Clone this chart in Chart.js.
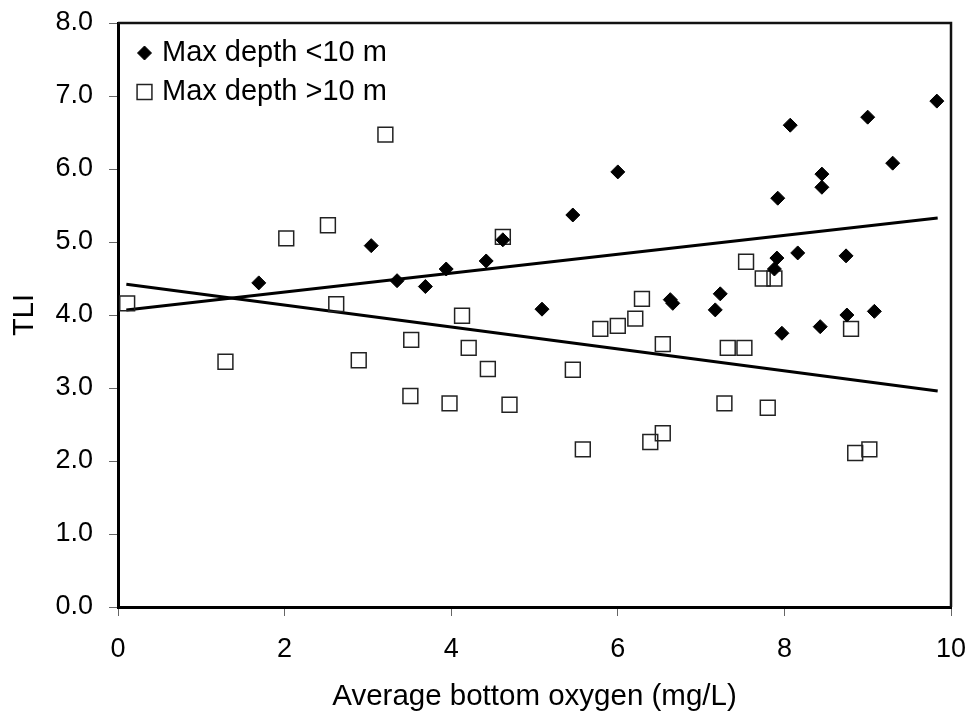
<!DOCTYPE html>
<html>
<head>
<meta charset="utf-8">
<script src="https://cdn.jsdelivr.net/npm/chart.js@4.4.1/dist/chart.umd.min.js"></script>
<style>
    html, body { margin: 0; padding: 0; background: #fff; }
    #wrap { width: 975px; height: 716px; }
</style>
</head>
<body>
<div id="wrap"><canvas id="chart" width="975" height="716"></canvas></div>
<script>
// Max depth <10 m (filled diamonds)
const shallowX = [1.69, 3.04, 3.35, 3.69, 3.94, 4.42, 4.62, 5.09, 5.46, 6.00, 6.63, 6.66, 7.17, 7.23, 7.88,
                  7.91, 7.92, 7.97, 8.07, 8.16, 8.43, 8.45, 8.45, 8.74, 8.75, 9.00, 9.08, 9.30, 9.83];
const shallowY = [4.44, 4.95, 4.47, 4.39, 4.63, 4.74, 5.03, 4.08, 5.37, 5.96, 4.21, 4.16, 4.07, 4.29, 4.63,
                  4.78, 5.60, 3.75, 6.60, 4.85, 3.84, 5.75, 5.93, 4.81, 4.00, 6.71, 4.05, 6.08, 6.93];

// Max depth >10 m (open squares)
const deepX = [0.11, 1.29, 2.02, 2.52, 2.62, 2.89, 3.21, 3.51, 3.52, 3.98, 4.13, 4.21, 4.44, 4.62, 4.70, 5.46, 5.58,
               5.79, 6.00, 6.21, 6.29, 6.39, 6.54, 6.54, 7.28, 7.32, 7.52, 7.54, 7.74, 7.80, 7.88, 8.80, 8.85, 9.02];
const deepY = [4.16, 3.36, 5.05, 5.23, 4.15, 3.38, 6.47, 2.89, 3.66, 2.79, 3.99, 3.55, 3.26, 5.07, 2.77, 3.25, 2.16,
               3.81, 3.85, 3.95, 4.22, 2.26, 3.60, 2.38, 2.79, 3.55, 3.55, 4.73, 4.50, 2.73, 4.50, 3.81, 2.11, 2.16];

// Trendline end points
const shallowTrendX = [0.1, 9.84];
const shallowTrendY = [4.07, 5.33];
const deepTrendX = [0.1, 9.84];
const deepTrendY = [4.42, 2.96];

const seriesNames = ['Max depth <10 m', 'Max depth >10 m'];
const xTicks = [0, 2, 4, 6, 8, 10];
const yTicks = [0, 1, 2, 3, 4, 5, 6, 7, 8];

const FONT = '"Liberation Sans", Arial, sans-serif';

function toPoints(xs, ys) {
    return xs.map((x, i) => ({ x: x, y: ys[i] }));
}

// Legend drawn inside the plot, top left, plus the top/right frame
const plotExtras = {
    id: 'plotExtras',
    afterDatasetsDraw(chart) {
        const { ctx, chartArea } = chart;
        ctx.save();
        ctx.strokeStyle = '#111';
        ctx.lineWidth = 2.5;
        ctx.beginPath();
        ctx.moveTo(chartArea.left, chartArea.top);
        ctx.lineTo(chartArea.right, chartArea.top);
        ctx.lineTo(chartArea.right, chartArea.bottom);
        ctx.stroke();

        ctx.font = '29px ' + FONT;
        ctx.fillStyle = '#000';
        ctx.textBaseline = 'middle';
        ctx.textAlign = 'left';
        [0, 1].forEach(i => {
            const ds = chart.data.datasets[i];
            const y = chartArea.top + 30 + i * 39;
            ctx.save();
            ctx.fillStyle = ds.backgroundColor;
            ctx.strokeStyle = ds.borderColor;
            ctx.lineWidth = ds.borderWidth;
            Chart.helpers.drawPoint(ctx, {
                pointStyle: ds.pointStyle,
                radius: ds.pointRadius,
                borderWidth: ds.borderWidth,
                rotation: 0
            }, chartArea.left + 26.5, y);
            ctx.restore();
            ctx.fillText(ds.label, chartArea.left + 44, y);
        });
        ctx.restore();
    }
};

new Chart(document.getElementById('chart'), {
    type: 'scatter',
    data: {
        datasets: [{
            label: seriesNames[0],
            data: toPoints(shallowX, shallowY),
            pointStyle: 'rectRot',
            pointRadius: 7,
            backgroundColor: '#000',
            borderColor: '#000',
            borderWidth: 1
        }, {
            label: seriesNames[1],
            data: toPoints(deepX, deepY),
            pointStyle: 'rect',
            pointRadius: 10.5,
            backgroundColor: 'rgba(255,255,255,0)',
            borderColor: '#222',
            borderWidth: 1.5
        }, {
            type: 'line',
            label: 'trend <10 m',
            data: toPoints(shallowTrendX, shallowTrendY),
            borderColor: '#000',
            borderWidth: 3,
            pointRadius: 0,
            fill: false
        }, {
            type: 'line',
            label: 'trend >10 m',
            data: toPoints(deepTrendX, deepTrendY),
            borderColor: '#000',
            borderWidth: 3,
            pointRadius: 0,
            fill: false
        }]
    },
    options: {
        responsive: false,
        animation: false,
        layout: { padding: { top: 23, right: 24, left: 0, bottom: 0 } },
        plugins: {
            legend: { display: false },
            tooltip: { enabled: false }
        },
        scales: {
            x: {
                type: 'linear',
                min: 0,
                max: 10,
                afterFit: axis => {
                    axis.height = 109;
                    axis.paddingLeft = 0;
                    axis.paddingRight = 0;
                },
                afterBuildTicks: axis => { axis.ticks = xTicks.map(v => ({ value: v })); },
                border: { display: true, color: '#000', width: 3 },
                grid: { drawOnChartArea: false, drawTicks: true, tickLength: 9, color: '#666', lineWidth: 1 },
                ticks: { color: '#000', padding: 17, font: { family: FONT, size: 27 } },
                title: {
                    display: true,
                    text: 'Average bottom oxygen (mg/L)',
                    color: '#000',
                    padding: { top: 0, bottom: 1 },
                    font: { family: FONT, size: 29.5 }
                }
            },
            y: {
                type: 'linear',
                min: 0,
                max: 8,
                afterFit: axis => {
                    axis.width = 118;
                    axis.paddingTop = 0;
                    axis.paddingBottom = 0;
                },
                afterBuildTicks: axis => { axis.ticks = yTicks.map(v => ({ value: v })); },
                border: { display: true, color: '#000', width: 3 },
                grid: { drawOnChartArea: false, drawTicks: true, tickLength: 9, color: '#666', lineWidth: 1 },
                ticks: {
                    color: '#000',
                    padding: 16,
                    font: { family: FONT, size: 27 },
                    callback: v => v.toFixed(1)
                },
                title: {
                    display: true,
                    text: 'TLI',
                    color: '#000',
                    padding: { top: 8, bottom: 0 },
                    font: { family: FONT, size: 29 }
                }
            }
        }
    },
    plugins: [plotExtras]
});
</script>
</body>
</html>
